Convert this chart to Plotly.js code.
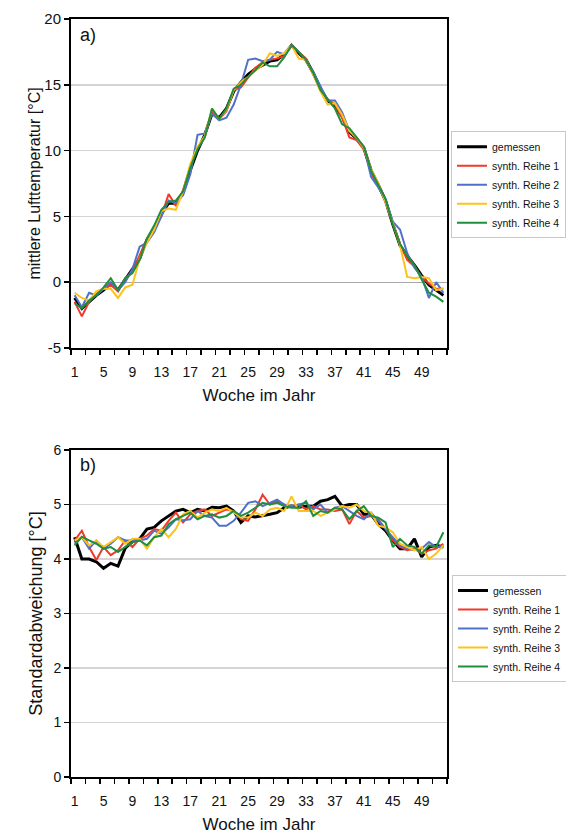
<!DOCTYPE html>
<html>
<head>
<meta charset="utf-8">
<script src="https://cdn.plot.ly/plotly-3.0.1.min.js"></script>
<style>html,body{margin:0;padding:0;background:#fff;}#chart{width:566px;height:837px;}</style>
</head>
<body>
<div id="chart"></div>
<script>
// Weeks 1..52
const weeks = Array.from({length: 52}, (_, i) => i + 1);
const xTickVals = [1, 5, 9, 13, 17, 21, 25, 29, 33, 37, 41, 45, 49];
const yTickVals1 = [-5, 0, 5, 10, 15, 20];
const yTickText1 = ["-5", "0", "5", "10", "15", "20"];
const yTickVals2 = [0, 1, 2, 3, 4, 5, 6];
const seriesNames = ["gemessen", "synth. Reihe 1", "synth. Reihe 2", "synth. Reihe 3", "synth. Reihe 4"];
const seriesColors = ["#000000", "#f2382a", "#5071c9", "#ffc21a", "#1f8f3e"];

// a) mean air temperature [°C]
const tempMeasured = [-1.2,-2.0,-1.5,-1.0,-0.6,-0.1,-0.6,0.2,0.9,1.8,3.2,4.0,5.2,6.0,6.0,6.8,8.5,10.0,11.2,12.8,12.5,13.2,14.5,15.2,15.8,16.2,16.5,16.8,16.9,17.3,18.0,17.4,16.9,15.9,14.7,13.8,13.4,12.6,11.4,10.9,10.2,8.5,7.4,6.2,4.4,2.8,2.0,1.3,0.5,-0.2,-0.6,-1.0];
const tempSynth1 = [-1.5,-2.6,-1.5,-0.9,-0.5,-0.2,-0.7,0.3,0.8,2.0,3.3,4.2,5.0,6.7,5.8,7.0,8.8,10.2,11.0,13.0,12.4,13.0,14.6,14.8,15.6,16.3,16.7,16.9,17.0,17.2,18.0,17.5,17.0,15.8,14.6,13.9,13.5,12.5,11.0,10.8,10.1,8.3,7.3,6.1,4.5,2.9,1.7,1.2,0.4,-0.1,-0.5,-0.5];
const tempSynth2 = [-1.0,-1.9,-0.8,-1.0,-0.5,0.0,-0.6,0.0,1.0,2.7,3.0,3.8,5.0,6.2,6.0,6.6,8.2,11.2,11.3,12.8,12.3,12.5,13.5,15.0,16.9,17.0,16.8,16.9,17.5,17.3,18.0,17.5,16.8,16.0,14.9,13.8,13.8,12.9,11.5,10.9,10.3,8.0,7.2,6.3,4.6,4.0,2.2,1.1,0.4,-1.2,0.0,-0.8];
const tempSynth3 = [-0.8,-1.2,-1.4,-0.7,-0.5,-0.5,-1.2,-0.4,-0.2,1.8,3.0,4.0,5.4,5.6,5.5,6.9,9.0,10.3,11.1,13.2,12.4,13.1,14.6,15.2,15.6,16.1,16.5,17.4,17.2,17.4,18.0,17.0,16.9,15.8,14.5,13.5,13.6,12.7,11.5,11.0,10.2,8.6,7.5,6.1,4.5,2.8,0.4,0.3,0.4,0.3,-0.6,-0.5];
const tempSynth4 = [-1.6,-2.0,-1.4,-1.0,-0.4,0.3,-0.6,0.3,0.7,1.7,3.3,4.3,5.5,6.1,6.2,6.9,8.7,10.1,11.0,13.2,12.4,13.2,14.7,15.0,15.6,16.1,16.7,16.4,16.4,17.1,18.0,17.5,16.9,15.9,14.6,13.9,13.2,12.0,11.7,11.0,10.3,8.5,7.4,6.3,4.4,2.9,2.0,1.3,0.2,-0.8,-1.1,-1.5];

// b) standard deviation [°C]
const sdMeasured = [4.40,4.00,4.00,3.95,3.83,3.92,3.87,4.20,4.32,4.37,4.55,4.58,4.70,4.79,4.88,4.91,4.85,4.91,4.88,4.95,4.94,4.97,4.88,4.67,4.79,4.77,4.79,4.82,4.85,4.94,4.97,4.95,4.97,4.97,5.06,5.09,5.15,4.97,5.00,5.00,4.82,4.82,4.64,4.52,4.34,4.19,4.19,4.37,4.04,4.22,4.25,4.22];
const sdSynth1 = [4.34,4.52,4.22,3.98,4.22,4.07,4.16,4.34,4.22,4.37,4.43,4.55,4.52,4.70,4.85,4.67,4.82,4.88,4.91,4.79,4.85,4.91,4.88,4.73,4.70,4.91,5.18,5.00,5.06,4.97,4.97,5.00,4.91,4.97,4.91,4.91,4.88,4.91,4.64,4.88,4.76,4.79,4.73,4.55,4.34,4.22,4.16,4.19,4.10,4.16,4.19,4.28];
const sdSynth2 = [4.28,4.40,4.19,4.34,4.19,4.28,4.40,4.34,4.34,4.34,4.37,4.52,4.46,4.58,4.73,4.71,4.73,4.88,4.79,4.76,4.61,4.61,4.70,4.85,5.03,5.06,4.97,5.03,5.09,5.00,4.97,5.00,5.03,4.91,5.00,4.85,4.94,4.97,4.88,4.79,4.73,4.85,4.70,4.55,4.40,4.25,4.19,4.16,4.19,4.31,4.22,4.22];
const sdSynth3 = [4.34,4.40,4.25,4.34,4.22,4.31,4.40,4.28,4.37,4.37,4.19,4.40,4.55,4.40,4.55,4.82,4.88,4.76,4.85,4.91,4.88,4.94,4.85,4.76,4.76,4.85,4.79,4.91,4.94,4.88,5.15,4.88,4.88,4.88,4.79,4.85,4.91,4.97,4.94,5.00,4.88,4.85,4.61,4.58,4.49,4.28,4.22,4.16,4.22,4.00,4.10,4.25];
const sdSynth4 = [4.25,4.41,4.34,4.28,4.19,4.22,4.13,4.22,4.31,4.34,4.25,4.40,4.43,4.64,4.73,4.79,4.85,4.73,4.79,4.82,4.76,4.79,4.88,4.79,4.85,4.94,5.03,5.00,5.03,4.97,4.94,4.94,5.06,4.79,4.88,4.85,4.94,4.91,4.73,4.88,4.97,4.79,4.76,4.67,4.22,4.37,4.25,4.22,4.10,4.25,4.22,4.49];

const tempSeries = [tempMeasured, tempSynth1, tempSynth2, tempSynth3, tempSynth4];
const sdSeries = [sdMeasured, sdSynth1, sdSynth2, sdSynth3, sdSynth4];

const FONT = "Arial, 'Liberation Sans', sans-serif";
const traces = [];
tempSeries.forEach((ys, k) => {
  traces.push({
    x: weeks, y: ys, type: "scatter", mode: "lines", name: seriesNames[k],
    line: {color: seriesColors[k], width: k === 0 ? 3 : 2},
    xaxis: "x", yaxis: "y", legend: "legend"
  });
});
sdSeries.forEach((ys, k) => {
  traces.push({
    x: weeks, y: ys, type: "scatter", mode: "lines", name: seriesNames[k],
    line: {color: seriesColors[k], width: k === 0 ? 3 : 2},
    xaxis: "x2", yaxis: "y2", legend: "legend2"
  });
});

const minorVals = [];
for (let v = 0.5; v <= 52.5; v += 2) minorVals.push(v);

function xAxis(anchor) {
  return {
    anchor: anchor, range: [0.5, 52.5], tickmode: "array",
    tickvals: xTickVals, ticktext: xTickVals.map(String),
    ticks: "outside", ticklen: 6, tickcolor: "rgba(0,0,0,0)",
    ticklabelstandoff: 4,
    tickfont: {family: FONT, size: 14, color: "#111"},
    showgrid: false, zeroline: false,
    showline: true, linecolor: "#000", linewidth: 2, mirror: true,
    minor: {tickmode: "array", tickvals: minorVals, ticks: "outside", ticklen: 5, tickcolor: "#000", tickwidth: 1.5, showgrid: false},
    title: {text: "Woche im Jahr", font: {family: FONT, size: 17, color: "#111"}, standoff: 10}
  };
}

const layout = {
  width: 566, height: 837,
  margin: {l: 71, r: 119, t: 19, b: 60, autoexpand: false},
  paper_bgcolor: "#fff", plot_bgcolor: "#fff",
  font: {family: FONT, color: "#111"},
  xaxis: xAxis("y"),
  yaxis: {
    domain: [0.566, 1], range: [-5, 20], tickmode: "array", tickvals: yTickVals1, ticktext: yTickText1,
    ticks: "outside", ticklen: 5, tickcolor: "#000", tickwidth: 1.5,
    tickfont: {family: FONT, size: 15, color: "#111"},
    showgrid: true, gridcolor: "#d4d4d4", gridwidth: 1.5,
    zeroline: true, zerolinecolor: "#a8a8a8", zerolinewidth: 1.2,
    showline: true, linecolor: "#000", linewidth: 2, mirror: true,
    title: {text: "mittlere Lufttemperatur [°C]", font: {family: FONT, size: 16, color: "#111"}, standoff: 0}
  },
  xaxis2: xAxis("y2"),
  yaxis2: {
    domain: [0, 0.4314], range: [0, 6], tickmode: "array", tickvals: yTickVals2, ticktext: yTickVals2.map(String),
    ticks: "outside", ticklen: 5, tickcolor: "#000", tickwidth: 1.5,
    tickfont: {family: FONT, size: 14, color: "#111"},
    showgrid: true, gridcolor: "#d4d4d4", gridwidth: 1.5,
    zeroline: false,
    showline: true, linecolor: "#000", linewidth: 2, mirror: true,
    title: {text: "Standardabweichung [°C]", font: {family: FONT, size: 18, color: "#111"}, standoff: 6}
  },
  legend: {
    x: 1.0106, y: 0.852, xanchor: "left", yanchor: "top",
    bgcolor: "#fff", bordercolor: "#c8c8c8", borderwidth: 1,
    font: {family: FONT, size: 10.5, color: "#111"}, tracegroupgap: 0
  },
  legend2: {
    x: 1.0133, y: 0.2665, xanchor: "left", yanchor: "top",
    bgcolor: "#fff", bordercolor: "#c8c8c8", borderwidth: 1,
    font: {family: FONT, size: 10.5, color: "#111"}, tracegroupgap: 0
  },
  annotations: [
    {text: "a)", xref: "paper", yref: "paper", x: 0.0186, y: 0.979, xanchor: "left", yanchor: "middle", showarrow: false, font: {family: FONT, size: 18, color: "#111"}},
    {text: "b)", xref: "paper", yref: "paper", x: 0.0186, y: 0.4116, xanchor: "left", yanchor: "middle", showarrow: false, font: {family: FONT, size: 18, color: "#111"}}
  ],
  showlegend: true
};

Plotly.newPlot("chart", traces, layout, {displayModeBar: false, staticPlot: true});
</script>
</body>
</html>
